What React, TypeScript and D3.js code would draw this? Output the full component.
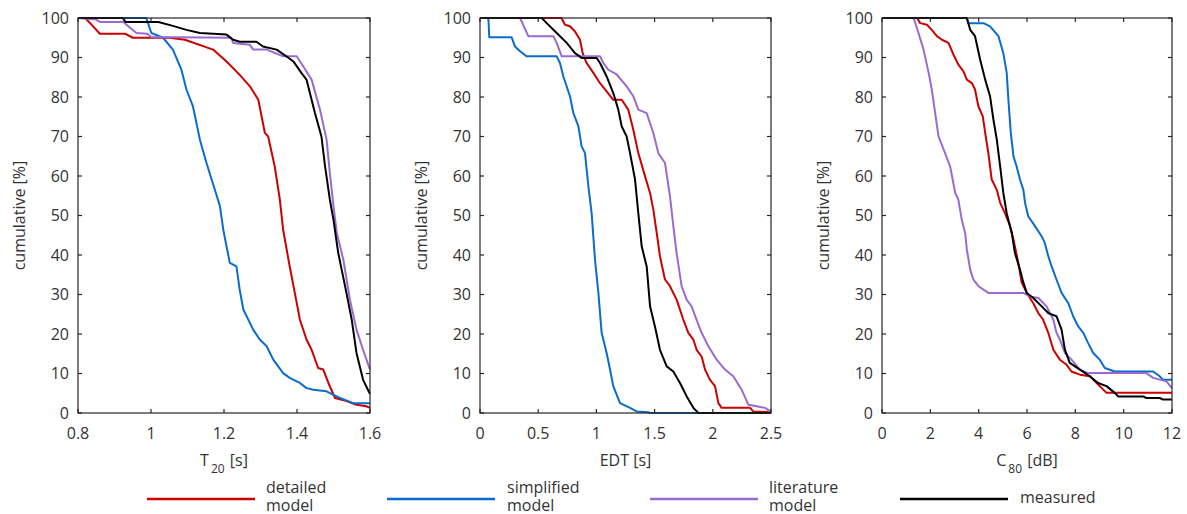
import React from 'react';
import * as d3 from 'd3';

type P = [number, number];

// ---------- data ----------
const seriesNames = ['detailed model', 'simplified model', 'literature model', 'measured'];
const seriesColors = ['#cc0000', '#0a6ccc', '#9a6ad2', '#000000'];

const yTicks = [0, 10, 20, 30, 40, 50, 60, 70, 80, 90, 100];

// Panel 1: T20
const t20Ticks = [0.8, 1, 1.2, 1.4, 1.6];
const t20Detailed: P[] = [[0.8, 100], [0.82, 100], [0.84, 98], [0.86, 96], [0.93, 96], [0.95, 95], [1.05, 95], [1.093, 94.5], [1.17, 92], [1.207, 89], [1.243, 85.6], [1.271, 82.7], [1.294, 79.3], [1.312, 70.9], [1.321, 70], [1.339, 62.4], [1.353, 54], [1.362, 46.4], [1.38, 37.1], [1.394, 30.4], [1.408, 23.6], [1.426, 18.6], [1.44, 16], [1.458, 11.4], [1.472, 11], [1.486, 7.6], [1.504, 3.8], [1.536, 3], [1.563, 2.1], [1.59, 1.7], [1.6, 1.3]];
const t20Simplified: P[] = [[0.8, 100], [0.987, 100], [1.001, 96.2], [1.033, 95], [1.06, 92], [1.083, 87], [1.097, 81.9], [1.115, 77.6], [1.134, 69.2], [1.152, 63.3], [1.175, 56.5], [1.189, 52.3], [1.198, 46.4], [1.216, 38], [1.234, 37.1], [1.243, 31.2], [1.253, 26.2], [1.28, 21.1], [1.298, 18.6], [1.317, 16.9], [1.335, 13.5], [1.362, 10.1], [1.38, 8.9], [1.408, 7.6], [1.426, 6.3], [1.445, 5.9], [1.481, 5.5], [1.5, 4.6], [1.518, 3.8], [1.554, 2.5], [1.6, 2.5]];
const t20Literature: P[] = [[0.8, 100], [0.85, 99.6], [0.86, 99], [0.925, 99], [0.933, 98.3], [0.96, 96.2], [0.99, 96], [1.0, 95.2], [1.22, 95], [1.225, 93.7], [1.271, 93.2], [1.28, 92], [1.317, 92], [1.362, 90.3], [1.399, 90.3], [1.417, 87.8], [1.44, 84.4], [1.463, 76.8], [1.481, 69.2], [1.49, 60.8], [1.5, 52.3], [1.509, 45.6], [1.527, 38.8], [1.545, 28.7], [1.563, 21.1], [1.581, 16], [1.6, 11]];
const t20Measured: P[] = [[0.8, 100], [0.923, 100], [0.93, 99], [1.02, 99], [1.06, 98], [1.097, 97], [1.134, 96.2], [1.207, 95.8], [1.225, 94.5], [1.243, 94], [1.289, 94], [1.307, 92.8], [1.344, 92], [1.371, 90.3], [1.39, 89], [1.413, 86], [1.426, 84.4], [1.449, 76], [1.467, 70], [1.477, 62.4], [1.49, 54], [1.5, 48.9], [1.513, 40.5], [1.532, 32], [1.55, 23.6], [1.563, 15.2], [1.581, 8.4], [1.6, 4.8]];

// Panel 2: EDT
const edtTicks = [0, 0.5, 1, 1.5, 2, 2.5];
const edtDetailed: P[] = [[0, 100], [0.7, 100], [0.73, 98.3], [0.773, 97.9], [0.816, 96.6], [0.859, 94.5], [0.882, 91.1], [0.916, 88.6], [0.974, 86.1], [1.031, 83.5], [1.074, 81.9], [1.145, 79.3], [1.217, 79.3], [1.274, 76.8], [1.317, 71.7], [1.36, 65.8], [1.418, 59.9], [1.461, 55.7], [1.489, 51.5], [1.518, 45.6], [1.546, 39.7], [1.589, 33.8], [1.632, 32.1], [1.689, 28.7], [1.747, 23.6], [1.79, 20.3], [1.833, 18.6], [1.861, 16], [1.904, 14.3], [1.933, 11], [1.976, 8.4], [2.019, 6.8], [2.048, 2.5], [2.076, 1.3], [2.32, 1.3], [2.348, 0.4], [2.5, 0.2]];
const edtSimplified: P[] = [[0, 100], [0.072, 100], [0.08, 95.1], [0.272, 95.1], [0.3, 92.8], [0.344, 91.6], [0.4, 90.3], [0.659, 90.3], [0.687, 88.6], [0.716, 85.2], [0.773, 80.2], [0.802, 75.9], [0.845, 72.6], [0.873, 67.5], [0.902, 65.8], [0.931, 57.4], [0.959, 50.6], [0.988, 38.8], [1.017, 30.4], [1.045, 20.3], [1.088, 15.2], [1.117, 11], [1.145, 6.8], [1.203, 2.5], [1.289, 1.3], [1.346, 0.4], [1.446, 0.2], [1.46, 0], [2.5, 0]];
const edtLiterature: P[] = [[0, 100], [0.344, 100], [0.415, 95.4], [0.63, 95.4], [0.659, 93.7], [0.702, 90.3], [1.031, 90.3], [1.06, 88.6], [1.103, 86.9], [1.174, 85.7], [1.26, 82.7], [1.317, 80.2], [1.36, 76.8], [1.432, 75.9], [1.489, 70.9], [1.532, 65.8], [1.589, 63.3], [1.632, 54.9], [1.661, 47.3], [1.689, 40.5], [1.732, 32.1], [1.775, 28.7], [1.818, 27], [1.861, 23.6], [1.904, 20.3], [1.962, 16.9], [2.033, 13.5], [2.105, 11], [2.176, 9.3], [2.248, 5.9], [2.305, 2.1], [2.377, 1.7], [2.449, 1.3], [2.5, 0.3]];
const edtMeasured: P[] = [[0, 100], [0.53, 100], [0.573, 98.7], [0.659, 96.2], [0.745, 93.7], [0.816, 91.1], [0.873, 89.9], [1.002, 89.9], [1.031, 88.6], [1.088, 85.2], [1.145, 81], [1.188, 76.8], [1.217, 72.6], [1.26, 70], [1.289, 65.8], [1.332, 59.1], [1.36, 50.6], [1.389, 42.2], [1.432, 37.1], [1.461, 27], [1.503, 21.9], [1.546, 16], [1.604, 11.8], [1.661, 10.5], [1.718, 7.6], [1.776, 4.2], [1.833, 1.3], [1.876, 0], [2.5, 0]];

// Panel 3: C80
const c80Ticks = [0, 2, 4, 6, 8, 10, 12];
const c80Detailed: P[] = [[0, 100], [1.45, 100], [1.58, 98.7], [1.86, 98.3], [2.06, 97], [2.27, 95.4], [2.48, 94.5], [2.75, 93.7], [2.96, 90.7], [3.16, 88.2], [3.37, 86.5], [3.51, 84.4], [3.72, 83.5], [3.85, 81.9], [3.99, 77.6], [4.17, 75.1], [4.27, 70.9], [4.4, 65.8], [4.54, 59.1], [4.75, 56.5], [4.89, 53.2], [5.09, 50.6], [5.3, 47.3], [5.44, 43.9], [5.64, 38], [5.78, 33], [5.99, 30.4], [6.26, 27.8], [6.47, 25.3], [6.67, 23.6], [6.88, 20.3], [7.09, 16], [7.36, 13.5], [7.64, 12.2], [7.84, 10.5], [8.19, 9.7], [8.6, 9.3], [9.01, 6.8], [9.29, 5.1], [12, 5.1]];
const c80Simplified: P[] = [[0, 100], [3.5, 100], [3.58, 98.7], [4.2, 98.7], [4.47, 97.9], [4.82, 95.4], [5.02, 91.1], [5.16, 86.1], [5.23, 79.3], [5.33, 70.9], [5.44, 65], [5.57, 62.4], [5.71, 59.1], [5.85, 56.5], [5.92, 53.2], [6.05, 49.8], [6.33, 47.3], [6.61, 44.7], [6.74, 43], [6.88, 39.7], [7.02, 37.1], [7.22, 33.8], [7.43, 30.4], [7.71, 27.8], [7.91, 24.5], [8.12, 21.9], [8.33, 20.3], [8.53, 17.7], [8.74, 15.2], [9.01, 13.5], [9.22, 11.4], [9.63, 10.5], [11.22, 10.5], [11.49, 9.3], [11.63, 8.4], [12, 8.4]];
const c80Literature: P[] = [[0, 100], [1.31, 100], [1.51, 96.2], [1.72, 92], [1.93, 86.1], [2.06, 81.9], [2.2, 75.9], [2.34, 70], [2.61, 65.8], [2.82, 62.4], [3.03, 55.7], [3.16, 54], [3.3, 48.9], [3.44, 45.6], [3.51, 41.4], [3.65, 36.3], [3.78, 33.8], [3.99, 32.1], [4.4, 30.4], [5.85, 30.4], [6.12, 29.5], [6.47, 29.1], [6.81, 27], [7.09, 23.6], [7.22, 20.3], [7.36, 18.6], [7.57, 15.2], [7.84, 13.5], [8.19, 11], [8.53, 10.1], [10.94, 10.1], [11.22, 8.9], [11.77, 8], [12, 6.3]];
const c80Measured: P[] = [[0, 100], [3.51, 100], [3.65, 97], [3.85, 95.4], [4.06, 89.5], [4.27, 84.4], [4.47, 80.2], [4.61, 74.3], [4.75, 69.2], [4.89, 62.4], [5.02, 55.7], [5.16, 50.6], [5.37, 45.6], [5.5, 40.5], [5.71, 36.3], [5.85, 33], [5.99, 30.4], [6.26, 29.1], [6.61, 27], [6.88, 25.3], [7.22, 24.5], [7.43, 21.1], [7.57, 16], [7.77, 12.7], [8.19, 11], [8.6, 9.3], [8.94, 7.6], [9.29, 6.8], [9.63, 5.1], [9.77, 4.2], [10.8, 4.2], [10.94, 3.8], [11.49, 3.8], [11.63, 3.4], [12, 3.4]];

// ---------- layout ----------
const W = 1187;
const H = 514;
const TOP = 18;
const BOTTOM = 413;
const FONT = "'Open Sans', 'Noto Sans', sans-serif";
const TXT = '#333333';

type Panel = {
  left: number;
  right: number;
  domain: [number, number];
  ticks: number[];
  label: [string, string, string];
  series: P[][];
};

const panels: Panel[] = [
  { left: 78, right: 370, domain: [0.8, 1.6], ticks: t20Ticks, label: ['T', '20', ' [s]'], series: [t20Detailed, t20Simplified, t20Literature, t20Measured] },
  { left: 480, right: 771, domain: [0, 2.5], ticks: edtTicks, label: ['EDT [s]', '', ''], series: [edtDetailed, edtSimplified, edtLiterature, edtMeasured] },
  { left: 882, right: 1172, domain: [0, 12], ticks: c80Ticks, label: ['C', '80', ' [dB]'], series: [c80Detailed, c80Simplified, c80Literature, c80Measured] },
];

const legendItems = [
  { x1: 147, x2: 255, tx: 266, lines: ['detailed', 'model'] },
  { x1: 387, x2: 495, tx: 507, lines: ['simplified', 'model'] },
  { x1: 650, x2: 758, tx: 769, lines: ['literature', 'model'] },
  { x1: 900, x2: 1008, tx: 1020, lines: ['measured'] },
];

function PanelView({ p, idx }: { p: Panel; idx: number }) {
  const x = d3.scaleLinear().domain(p.domain).range([p.left, p.right]);
  const y = d3.scaleLinear().domain([0, 100]).range([BOTTOM, TOP]);
  const line = d3.line<P>().x((d) => x(d[0])).y((d) => y(d[1]));
  const tl = 4;
  const cx = (p.left + p.right) / 2;
  const clipId = `clip${idx}`;
  return (
    <g>
      <defs>
        <clipPath id={clipId}>
          <rect x={p.left} y={TOP - 2} width={p.right - p.left + 1} height={BOTTOM - TOP + 3} />
        </clipPath>
      </defs>
      <g clipPath={`url(#${clipId})`}>
        {p.series.map((s, i) => (
          <path key={i} d={line(s) || ''} fill="none" stroke={seriesColors[i]} strokeWidth={2} strokeLinejoin="round" />
        ))}
      </g>
      <rect x={p.left} y={TOP} width={p.right - p.left} height={BOTTOM - TOP} fill="none" stroke="#262626" strokeWidth={1.2} />
      {yTicks.map((t) => (
        <g key={'y' + t}>
          <line x1={p.left} x2={p.left + tl} y1={y(t)} y2={y(t)} stroke="#262626" strokeWidth={1.2} />
          <line x1={p.right} x2={p.right - tl} y1={y(t)} y2={y(t)} stroke="#262626" strokeWidth={1.2} />
          <text x={p.left - 9} y={y(t)} dy="0.36em" textAnchor="end" fontSize={16} fill={TXT} fontFamily={FONT}>{t}</text>
        </g>
      ))}
      {p.ticks.map((t) => (
        <g key={'x' + t}>
          <line x1={x(t)} x2={x(t)} y1={BOTTOM} y2={BOTTOM - tl} stroke="#262626" strokeWidth={1.2} />
          <line x1={x(t)} x2={x(t)} y1={TOP} y2={TOP + tl} stroke="#262626" strokeWidth={1.2} />
          <text x={x(t)} y={439} textAnchor="middle" fontSize={16} fill={TXT} fontFamily={FONT}>{String(t)}</text>
        </g>
      ))}
      <text x={cx} y={466} textAnchor="middle" fontSize={16} fill={TXT} fontFamily={FONT}>
        {p.label[0]}
        {p.label[1] ? <tspan dx={2} dy={7} fontSize={12}>{p.label[1]}</tspan> : null}
        {p.label[2] ? <tspan dx={1} dy={-7}>{p.label[2]}</tspan> : null}
      </text>
      <text transform={`translate(${p.left - 59},${(TOP + BOTTOM) / 2}) rotate(-90)`} textAnchor="middle" dy="0.36em" fontSize={16} fill={TXT} fontFamily={FONT}>cumulative [%]</text>
    </g>
  );
}

export default function App() {
  return (
    <svg width={W} height={H} style={{ position: 'absolute', left: 0, top: 0, background: '#ffffff' }}>
      <rect x={0} y={0} width={W} height={H} fill="#ffffff" />
      {panels.map((p, i) => (
        <PanelView key={i} p={p} idx={i} />
      ))}
      {legendItems.map((l, i) => (
        <g key={i}>
          <line x1={l.x1} x2={l.x2} y1={499} y2={499} stroke={seriesColors[i]} strokeWidth={2.5} />
          {l.lines.length === 2 ? (
            <text fontSize={16} fill={TXT} fontFamily={FONT}>
              <tspan x={l.tx} y={493}>{l.lines[0]}</tspan>
              <tspan x={l.tx} y={511}>{l.lines[1]}</tspan>
            </text>
          ) : (
            <text x={l.tx} y={503} fontSize={16} fill={TXT} fontFamily={FONT}>{l.lines[0]}</text>
          )}
        </g>
      ))}
    </svg>
  );
}
